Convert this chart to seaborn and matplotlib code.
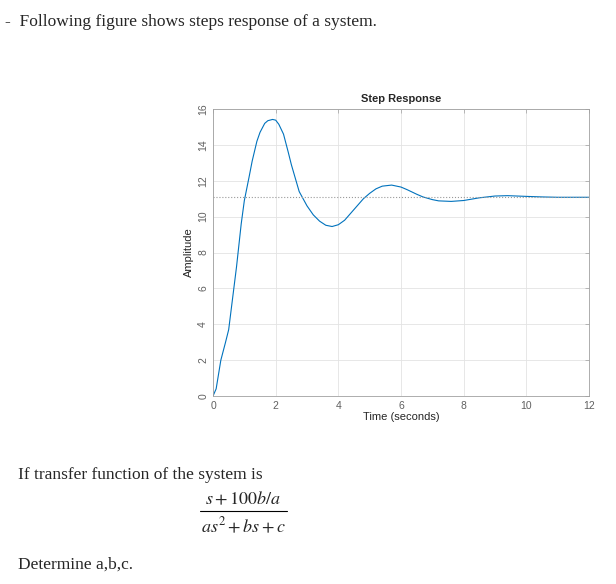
import matplotlib
matplotlib.use("Agg")
import matplotlib.pyplot as plt
import seaborn as sns
import pandas as pd

time_s = [0, 0.1, 0.25, 0.4, 0.5, 0.65, 0.75, 0.9, 1.0, 1.15, 1.25, 1.4, 1.5, 1.65, 1.75, 1.9, 2.0, 2.1, 2.25, 2.4, 2.5, 2.75, 3.0, 3.2, 3.4, 3.6, 3.8, 4.0, 4.2, 4.4, 4.6, 4.8, 5.0, 5.2, 5.4, 5.7, 6.0, 6.2, 6.5, 6.7, 7.0, 7.2, 7.6, 8.0, 8.5, 9.0, 9.4, 10.0, 10.5, 11.0, 12.0]
amplitude = [0, 0.4, 2.0, 3.0, 3.7, 5.8, 7.2, 9.6, 10.9, 12.2, 13.1, 14.2, 14.7, 15.2, 15.35, 15.42, 15.38, 15.15, 14.6, 13.6, 12.9, 11.4, 10.6, 10.1, 9.75, 9.52, 9.45, 9.55, 9.8, 10.2, 10.6, 11.0, 11.3, 11.55, 11.7, 11.76, 11.65, 11.5, 11.25, 11.1, 10.95, 10.88, 10.85, 10.9, 11.05, 11.15, 11.17, 11.13, 11.1, 11.08, 11.08]
steady_state = 11.1
x_ticks = [0, 2, 4, 6, 8, 10, 12]
y_ticks = [0, 2, 4, 6, 8, 10, 12, 14, 16]

sns.set_style("white")
plt.rcParams['font.family'] = ['Liberation Sans', 'DejaVu Sans']
plt.rcParams['mathtext.fontset'] = 'stix'

fig = plt.figure(figsize=(6.16, 5.84), dpi=100)
ax = fig.add_axes([0.3458, 0.3219, 0.6104, 0.4914])
df = pd.DataFrame({"t": time_s, "y": amplitude})
sns.lineplot(data=df, x="t", y="y", ax=ax, color=(0.0, 0.447, 0.741), lw=0.8)
ax.axhline(steady_state, color="#999999", ls=":", lw=0.8)
ax.set_xlim(0, 12); ax.set_ylim(0, 16)
ax.set_xticks(x_ticks); ax.set_yticks(y_ticks)
ax.grid(True, color="#e3e3e3", lw=0.6)
for s in ax.spines.values():
    s.set_color("#a0a0a0"); s.set_linewidth(0.6)
ax.tick_params(direction="in", length=3, width=0.5, colors="#a0a0a0", labelcolor="#606060", labelsize=7.5, top=True, right=True)
for lab in ax.get_yticklabels():
    lab.set_rotation(90); lab.set_va("center")
ax.set_xlabel("Time (seconds)", fontsize=8, color="#262626", labelpad=1)
ax.set_ylabel("Amplitude", fontsize=8, color="#262626", labelpad=3)
ax.set_title("Step Response", fontsize=8, fontweight="bold", color="#262626", pad=5)

serif = ['Liberation Serif', 'DejaVu Serif']
fig.text(0.008, 1 - 22/584, "-  Following figure shows steps response of a system.", family=serif, fontsize=12.5, va="center")
fig.text(0.03, 1 - 475/584, "If transfer function of the system is", family=serif, fontsize=12.5, va="center")
fig.text(243/616, 1 - 500/584, r"$s + 100b/a$", fontsize=13, ha="center", va="center")
fig.add_artist(plt.Line2D([200/616, 287/616], [1 - 511/584]*2, color="black", lw=0.8))
fig.text(243/616, 1 - 527/584, r"$as^2 + bs + c$", fontsize=13, ha="center", va="center")
fig.text(0.03, 1 - 565/584, "Determine a,b,c.", family=serif, fontsize=12.5, va="center")

fig.savefig("out.png", dpi=100)
